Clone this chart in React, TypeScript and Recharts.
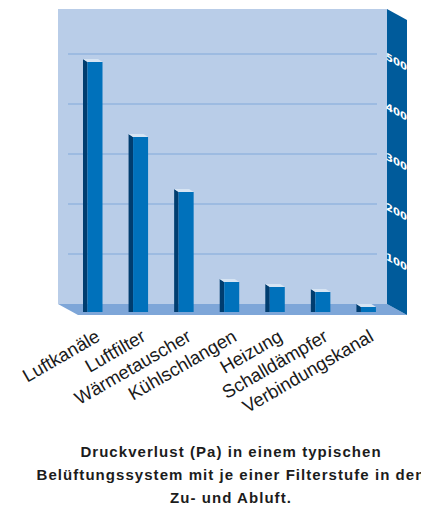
import { BarChart, Bar, XAxis, YAxis, ReferenceArea, ReferenceLine } from "recharts";

const categories = [
  "Luftkanäle",
  "Luftfilter",
  "Wärmetauscher",
  "Kühlschlangen",
  "Heizung",
  "Schalldämpfer",
  "Verbindungskanal",
];
const pressureLoss = [500, 350, 240, 60, 50, 40, 10];
const yTicks = [100, 200, 300, 400, 500];
const titleLines = [
  "Druckverlust (Pa) in einem typischen",
  "Belüftungssystem mit je einer Filterstufe in den",
  "Zu- und Abluft.",
];

const data = categories.map((name, i) => ({ name, value: pressureLoss[i] }));

// depth of the fake 3D box: back plane sits up-left, front edge down-right
const BACK = { dx: -14.5, dy: -8 };
const FRONT = { dx: 5.5, dy: 3 };
const EXTRA_RIGHT = 10;
const BAR_DEPTH = { dx: -4.5, dy: -3 };

const WALL = "#b9cde8";
const GRID = "#82a9d9";
const FLOOR = "#7ea6d8";
const SIDE = "#005b9b";
const FACE = "#0071bb";
const BAR_SIDE = "#003d6f";
const CAP = "#d6e4f3";

function Box(props: any) {
  const { x, y, width, height } = props;
  const left = x;
  const right = x + width + EXTRA_RIGHT;
  const top = y;
  const bottom = y + height;
  const p = (px: number, py: number) => `${px},${py}`;
  return (
    <g>
      <rect
        x={left + BACK.dx}
        y={top + BACK.dy}
        width={right - left}
        height={bottom - top}
        fill={WALL}
      />
      <polygon
        fill={FLOOR}
        points={[
          p(left + BACK.dx, bottom + BACK.dy),
          p(right + BACK.dx, bottom + BACK.dy),
          p(right + FRONT.dx, bottom + FRONT.dy),
          p(left + FRONT.dx, bottom + FRONT.dy),
        ].join(" ")}
      />
      <polygon
        fill={SIDE}
        points={[
          p(right + BACK.dx, top + BACK.dy),
          p(right + FRONT.dx, top + FRONT.dy),
          p(right + FRONT.dx, bottom + FRONT.dy),
          p(right + BACK.dx, bottom + BACK.dy),
        ].join(" ")}
      />
    </g>
  );
}

function BackGridLine(props: any) {
  const { x1, y1, x2, y2 } = props;
  return (
    <line
      x1={x1 + BACK.dx}
      y1={y1 + BACK.dy}
      x2={x2 + EXTRA_RIGHT + BACK.dx}
      y2={y2 + BACK.dy}
      stroke={GRID}
      strokeWidth={1.2}
    />
  );
}

function Bar3D(props: any) {
  const { x, y, width, height } = props;
  const { dx, dy } = BAR_DEPTH;
  const p = (px: number, py: number) => `${px},${py}`;
  return (
    <g>
      <polygon
        fill={BAR_SIDE}
        points={[p(x, y), p(x + dx, y + dy), p(x + dx, y + height), p(x, y + height)].join(" ")}
      />
      <polygon
        fill={CAP}
        points={[p(x, y), p(x + dx, y + dy), p(x + width + dx, y + dy), p(x + width, y)].join(" ")}
      />
      <rect x={x} y={y} width={width} height={height} fill={FACE} />
    </g>
  );
}

function CategoryTick(props: any) {
  const { x, payload } = props;
  const ax = x + 6;
  const ay = 340;
  return (
    <text
      x={ax}
      y={ay}
      transform={`rotate(-30, ${ax}, ${ay})`}
      textAnchor="end"
      fontFamily="'Liberation Sans', Arial, sans-serif"
      fontSize={18.5}
      fill="#1a1a1a"
    >
      {payload.value}
    </text>
  );
}

// value labels sit on the dark side panel, sheared to follow its slope
function SideTick(props: any) {
  const { y, payload } = props;
  const ax = 396.5;
  return (
    <text
      x={0}
      y={0}
      transform={`translate(${ax}, ${y}) skewY(29)`}
      textAnchor="middle"
      dominantBaseline="central"
      fontFamily="'DejaVu Sans', sans-serif"
      fontSize={10}
      fontWeight="bold"
      fill="#ffffff"
    >
      {payload.value}
    </text>
  );
}

export default function App() {
  return (
    <div
      style={{
        position: "absolute",
        left: 0,
        top: 0,
        width: 421,
        height: 506,
        overflow: "hidden",
        background: "#ffffff",
      }}
    >
      <BarChart
        width={421}
        height={420}
        data={data}
        margin={{ top: 17, right: 28.5, left: 72.5, bottom: 8 }}
      >
        <ReferenceArea y1={0} y2={590} shape={<Box />} ifOverflow="visible" />
        {yTicks.map((v) => (
          <ReferenceLine key={v} y={v} shape={<BackGridLine />} zIndex={150} />
        ))}
        <Bar dataKey="value" barSize={15} shape={<Bar3D />} isAnimationActive={false} />
        <XAxis
          dataKey="name"
          height={100}
          axisLine={false}
          tickLine={false}
          interval={0}
          tick={<CategoryTick />}
        />
        <YAxis
          orientation="right"
          width={1}
          domain={[0, 590]}
          ticks={yTicks}
          axisLine={false}
          tickLine={false}
          tick={<SideTick />}
        />
      </BarChart>
      {titleLines.map((line, i) => (
        <div
          key={i}
          style={{
            position: "absolute",
            left: 231 - 300,
            width: 600,
            top: 442 + i * 23,
            textAlign: "center",
            whiteSpace: "nowrap",
            fontFamily: "'Liberation Sans', Arial, sans-serif",
            fontWeight: "bold",
            fontSize: 15,
            letterSpacing: 1.05,
            lineHeight: "20px",
            color: "#1c1c1c",
          }}
        >
          {line}
        </div>
      ))}
    </div>
  );
}
